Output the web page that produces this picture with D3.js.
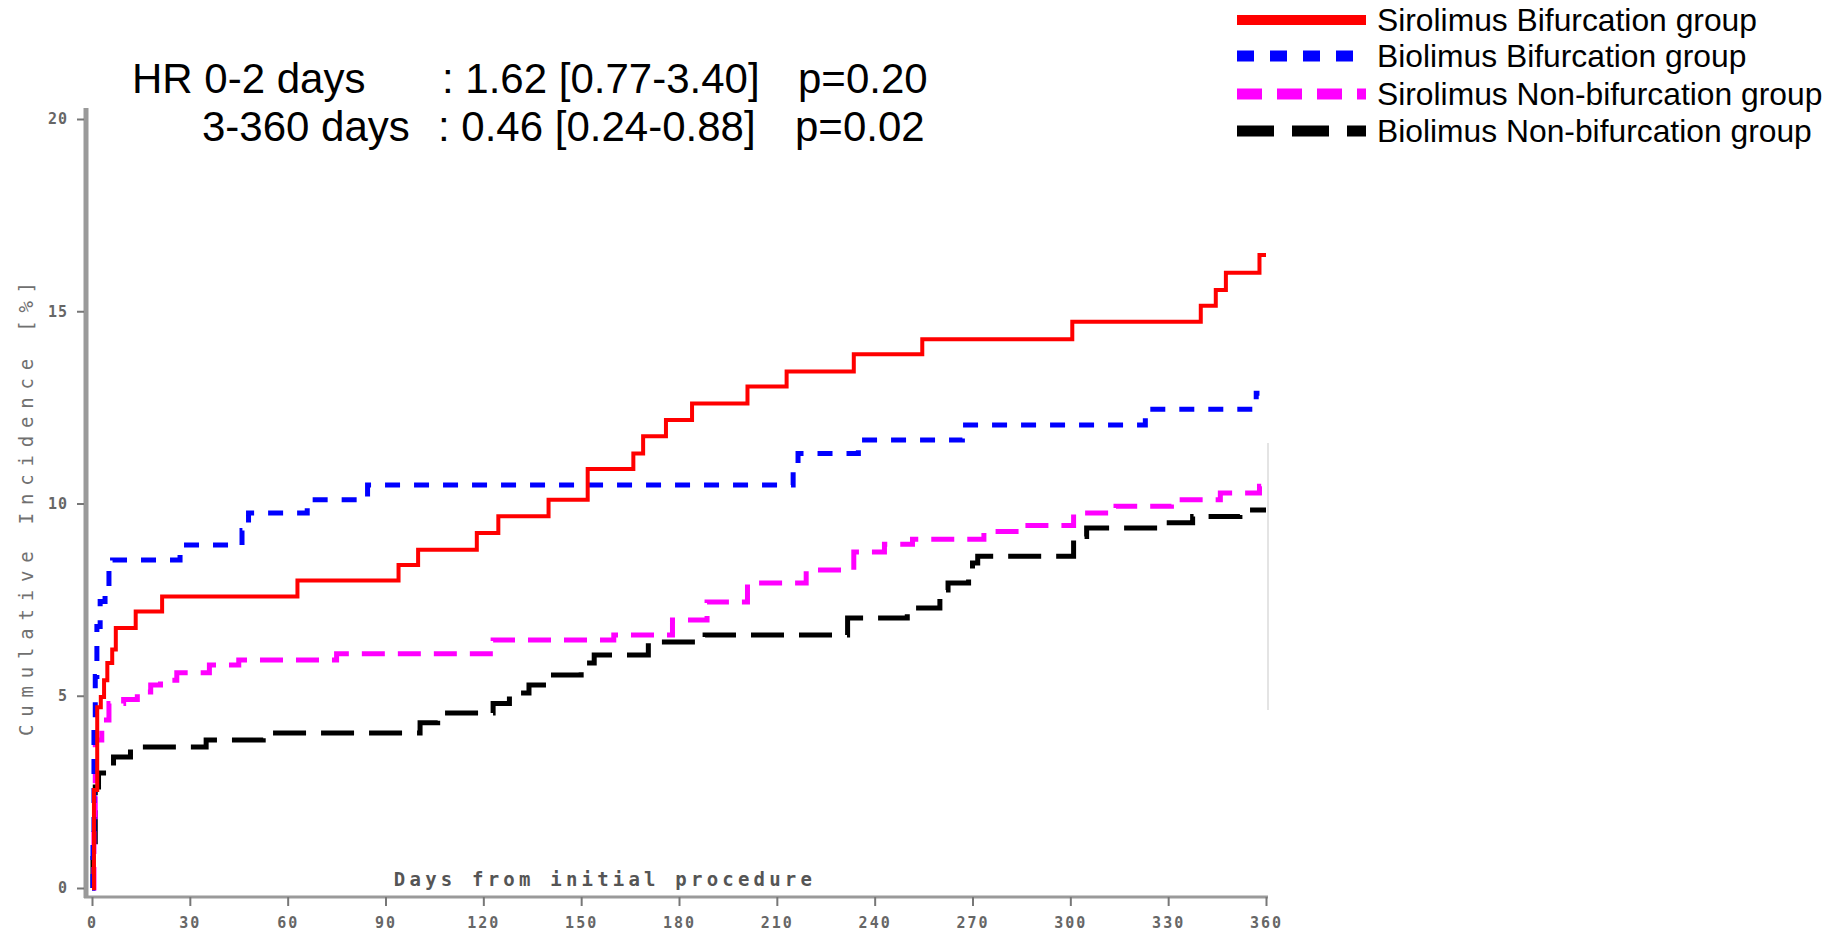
<!DOCTYPE html>
<html>
<head>
<meta charset="utf-8">
<script src="https://cdn.jsdelivr.net/npm/d3@7"></script>
<style>
  html, body { margin: 0; padding: 0; background: #fff; }
  svg { display: block; }
</style>
</head>
<body>
<svg id="chart" width="1833" height="937"></svg>
<script>
// ---- data ----
const seriesNames = ["Sirolimus Bifurcation group", "Biolimus Bifurcation group", "Sirolimus Non-bifurcation group", "Biolimus Non-bifurcation group"];

const sirBifDays = [0, 0.6, 1.6, 2.7, 3.7, 4.7, 6.2, 7.3, 13.4, 21.5, 63, 94, 100, 118, 124.6, 140, 152, 166, 169, 176, 184, 201, 213, 233.6, 254.6, 300.6, 340, 344.6, 347.7, 358, 360];
const sirBifVals = [0, 2.55, 4.7, 4.97, 5.4, 5.85, 6.2, 6.76, 7.19, 7.58, 8.0, 8.4, 8.8, 9.23, 9.67, 10.1, 10.9, 11.3, 11.75, 12.17, 12.6, 13.04, 13.43, 13.88, 14.27, 14.73, 15.14, 15.55, 16.0, 16.46, 16.46];

const bioBifDays = [0, 0.3, 0.6, 1.0, 1.5, 2.5, 4, 5.2, 6.3, 27, 46, 48, 66, 84.5, 215, 216.5, 235, 266.9, 323, 357, 358];
const bioBifVals = [0, 1.4, 4.2, 5.5, 6.8, 7.45, 7.85, 8.25, 8.53, 8.92, 9.3, 9.75, 10.1, 10.48, 10.95, 11.3, 11.65, 12.04, 12.45, 12.87, 12.87];

const sirNonDays = [0, 0.6, 1.0, 3, 5.2, 9.7, 13.9, 18, 21, 26, 36, 45, 75, 123, 160, 178, 188.6, 201, 219, 233.6, 243, 251.6, 273.5, 285, 301, 314, 331, 346, 358, 360];
const sirNonVals = [0, 1.5, 3.85, 4.37, 4.8, 4.9, 5.1, 5.28, 5.4, 5.6, 5.8, 5.93, 6.09, 6.45, 6.58, 6.97, 7.44, 7.93, 8.27, 8.74, 8.94, 9.07, 9.27, 9.43, 9.75, 9.93, 10.1, 10.27, 10.45, 10.45];

const bioNonDays = [0, 0.3, 1.0, 2.0, 6.6, 11.8, 35, 52.5, 100.6, 106, 123, 128, 134, 139.6, 150, 154, 170.6, 188, 231.7, 250, 260, 262.5, 268.8, 270, 271.6, 301, 305, 328.6, 337.5, 352, 360];
const bioNonVals = [0, 1.2, 2.63, 2.99, 3.41, 3.67, 3.85, 4.03, 4.3, 4.55, 4.8, 5.07, 5.28, 5.54, 5.85, 6.06, 6.4, 6.58, 7.02, 7.28, 7.75, 7.93, 8.27, 8.45, 8.63, 9.14, 9.36, 9.5, 9.66, 9.83, 9.83];

const xTicks = [0, 30, 60, 90, 120, 150, 180, 210, 240, 270, 300, 330, 360];
const yTicks = [0, 5, 10, 15, 20];

const hrLine1 = ["HR 0-2 days", ": 1.62 [0.77-3.40]", "p=0.20"];
const hrLine2 = ["3-360 days", ": 0.46 [0.24-0.88]", "p=0.02"];

const xTitle = "Days from initial procedure";
const yTitle = "Cumulative Incidence [%]";

// ---- styles ----
const colors = ["#ff0000", "#0000ff", "#ff00ff", "#000000"];
const plotDash = [null, "15,14", "23,13", "33,15"];
const plotWidth = [4, 5, 5, 5];
const legDash = [null, "17,16", "25,15", "37,18"];

const svg = d3.select("#chart");

const x = d3.scaleLinear().domain([0, 360]).range([92, 1266]);
const y = d3.scaleLinear().domain([0, 20]).range([888, 119]);

// axis lines
svg.append("line").attr("x1", 86).attr("x2", 86).attr("y1", 108).attr("y2", 898)
  .attr("stroke", "#9a9a9a").attr("stroke-width", 5);
svg.append("line").attr("x1", 84).attr("x2", 1268).attr("y1", 897).attr("y2", 897)
  .attr("stroke", "#9a9a9a").attr("stroke-width", 3);

const monoFont = "DejaVu Sans Mono, monospace";

// x axis
const gx = svg.append("g").attr("transform", "translate(0,897)")
  .call(d3.axisBottom(x).tickValues(xTicks).tickSize(9).tickSizeOuter(0));
gx.select(".domain").remove();
gx.selectAll(".tick line").attr("stroke", "#777").attr("stroke-width", 2);
gx.selectAll(".tick text").attr("y", 20).attr("dy", "0.71em")
  .attr("font-family", monoFont).attr("font-size", 15).attr("font-weight", "bold")
  .attr("letter-spacing", 2).attr("fill", "#666");

// y axis
const gy = svg.append("g").attr("transform", "translate(84,0)")
  .call(d3.axisLeft(y).tickValues(yTicks).tickSize(7).tickPadding(9).tickSizeOuter(0));
gy.select(".domain").remove();
gy.selectAll(".tick line").attr("stroke", "#777").attr("stroke-width", 2);
gy.selectAll(".tick text")
  .attr("font-family", monoFont).attr("font-size", 15).attr("font-weight", "bold")
  .attr("letter-spacing", 1).attr("fill", "#666");

// axis titles
svg.append("text").attr("x", 605).attr("y", 879).attr("dy", "0.35em")
  .attr("text-anchor", "middle").attr("font-family", monoFont)
  .attr("font-size", 19).attr("font-weight", "bold").attr("letter-spacing", 4.2).attr("fill", "#555")
  .text(xTitle);
svg.append("text").attr("transform", "translate(26,505) rotate(-90)")
  .attr("dy", "0.35em").attr("text-anchor", "middle").attr("font-family", monoFont)
  .attr("font-size", 19).attr("letter-spacing", 7.8).attr("fill", "#707070")
  .text(yTitle);

// faint artifact line
svg.append("line").attr("x1", 1268).attr("x2", 1268).attr("y1", 443).attr("y2", 710)
  .attr("stroke", "#e4e4e4").attr("stroke-width", 2);

// curves
const allDays = [sirBifDays, bioBifDays, sirNonDays, bioNonDays];
const allVals = [sirBifVals, bioBifVals, sirNonVals, bioNonVals];
const line = d3.line().x(d => x(d[0])).y(d => y(d[1])).curve(d3.curveStepAfter);
const order = [3, 2, 1, 0];
order.forEach(i => {
  const pts = allDays[i].map((d, k) => [d, allVals[i][k]]);
  const p = svg.append("path").attr("d", line(pts))
    .attr("fill", "none").attr("stroke", colors[i])
    .attr("stroke-width", plotWidth[i]).attr("stroke-linejoin", "miter");
  if (plotDash[i]) p.attr("stroke-dasharray", plotDash[i]);
});

// HR annotation
const hrFont = "Liberation Sans, Arial, sans-serif";
const hrX1 = [132, 442, 798];
const hrX2 = [202, 438, 795];
hrLine1.forEach((t, k) => svg.append("text").attr("x", hrX1[k]).attr("y", 93)
  .attr("font-family", hrFont).attr("font-size", 42).attr("fill", "#000").text(t));
hrLine2.forEach((t, k) => svg.append("text").attr("x", hrX2[k]).attr("y", 141)
  .attr("font-family", hrFont).attr("font-size", 42).attr("fill", "#000").text(t));

// legend
const legY = [20, 56, 94, 131];
seriesNames.forEach((name, i) => {
  const l = svg.append("line").attr("x1", 1237).attr("x2", 1366)
    .attr("y1", legY[i]).attr("y2", legY[i])
    .attr("stroke", colors[i]).attr("stroke-width", i === 0 ? 10 : 11);
  if (legDash[i]) l.attr("stroke-dasharray", legDash[i]);
  svg.append("text").attr("x", 1377).attr("y", legY[i]).attr("dy", "0.36em")
    .attr("font-family", hrFont).attr("font-size", 31.8).attr("fill", "#000").text(name);
});
</script>
</body>
</html>
